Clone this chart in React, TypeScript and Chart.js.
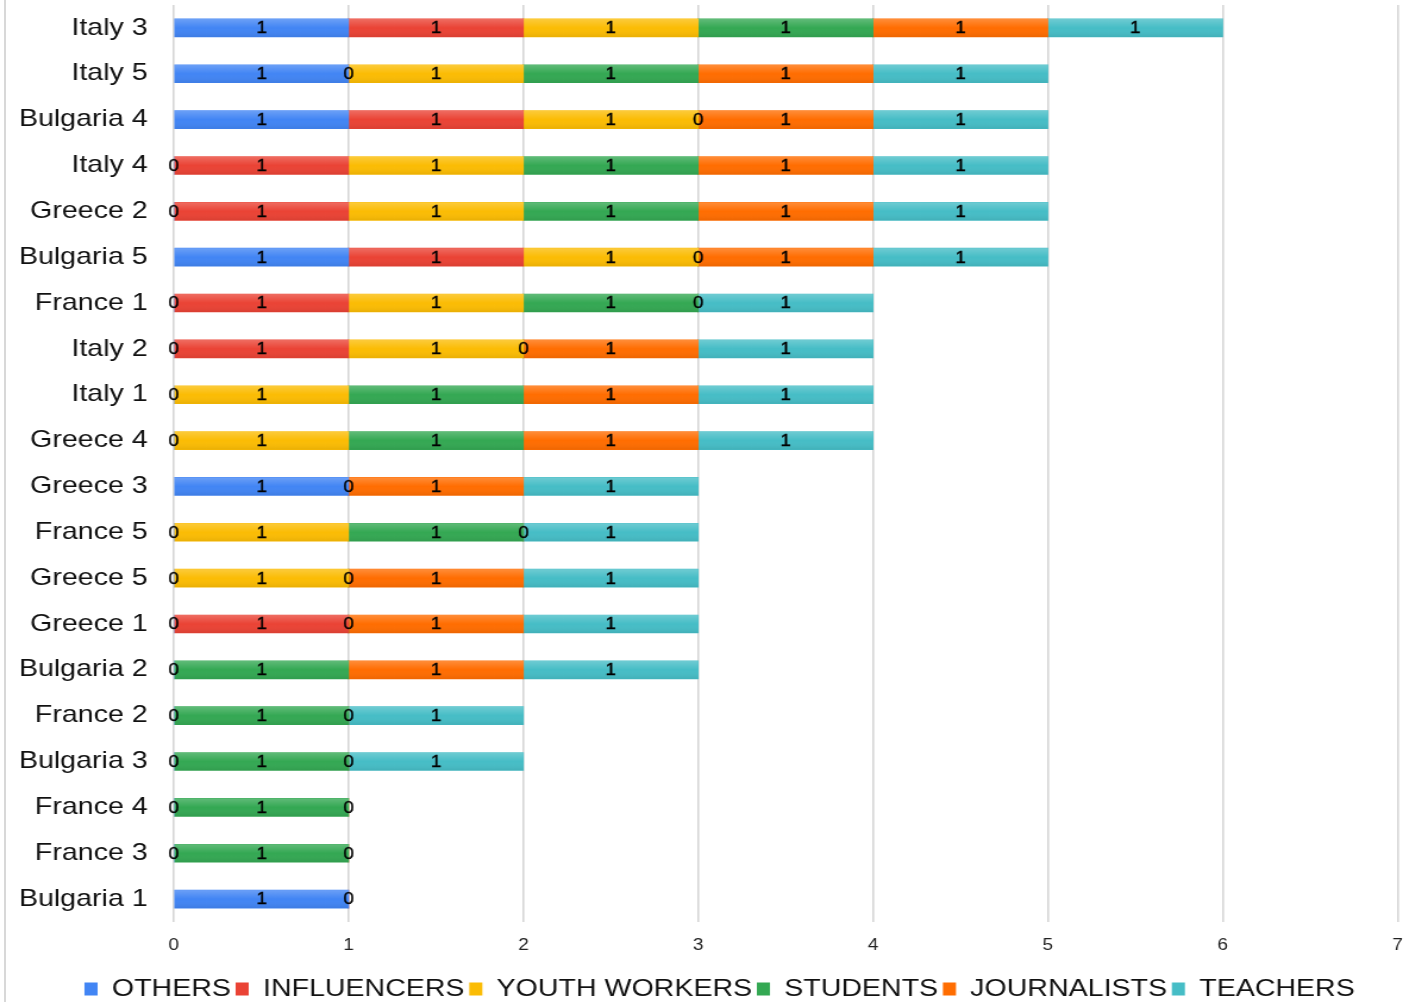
import React, { useEffect, useRef } from 'react';
import { Chart, registerables } from 'chart.js';

Chart.register(...registerables);

// ---- data ----
const categories = [
  'Italy 3', 'Italy 5', 'Bulgaria 4', 'Italy 4', 'Greece 2', 'Bulgaria 5', 'France 1',
  'Italy 2', 'Italy 1', 'Greece 4', 'Greece 3', 'France 5', 'Greece 5', 'Greece 1',
  'Bulgaria 2', 'France 2', 'Bulgaria 3', 'France 4', 'France 3', 'Bulgaria 1',
];

const others = [1, 1, 1, 0, 0, 1, 0, 0, 0, 0, 1, 0, 0, 0, 0, 0, 0, 0, 0, 1];
const influencers = [1, 0, 1, 1, 1, 1, 1, 1, null, null, 0, null, null, 1, null, null, null, null, null, 0];
const youthWorkers = [1, 1, 1, 1, 1, 1, 1, 1, 1, 1, null, 1, 1, null, null, null, null, null, null, null];
const students = [1, 1, 0, 1, 1, 0, 1, 0, 1, 1, null, 1, 0, 0, 1, 1, 1, 1, 1, null];
const journalists = [1, 1, 1, 1, 1, 1, 0, 1, 1, 1, 1, 0, 1, 1, 1, 0, 0, 0, 0, null];
const teachers = [1, 1, 1, 1, 1, 1, 1, 1, 1, 1, 1, 1, 1, 1, 1, 1, 1, null, null, null];

const seriesNames = ['OTHERS', 'INFLUENCERS', 'YOUTH WORKERS', 'STUDENTS', 'JOURNALISTS', 'TEACHERS'];
const seriesValues = [others, influencers, youthWorkers, students, journalists, teachers];
const seriesColors = ['#4285F4', '#EA4335', '#FBBC04', '#34A853', '#FF6D01', '#46BDC6'];

const xMin = 0;
const xMax = 7;
const xStep = 1;

// ---- layout constants ----
const SX = 1.19; // horizontal stretch of the reference
const W = 1181;
const H = 1002;
const FONT = "'Liberation Sans', Arial, Helvetica, sans-serif";

const legendShift = {
  id: 'legendShift',
  afterLayout(chart: any) {
    if (chart.legend) {
      chart.legend.left = 35;
      chart.legend.width = chart.legend.right - 35;
    }
  },
};

const barDecor = {
  id: 'barDecor',
  afterDatasetsDraw(chart: any) {
    const ctx = chart.ctx;
    ctx.save();
    // subtle vertical shading on every bar
    chart.data.datasets.forEach((ds: any, i: number) => {
      const meta = chart.getDatasetMeta(i);
      if (meta.hidden) return;
      meta.data.forEach((el: any, j: number) => {
        const v = ds.data[j];
        if (v == null || v === 0) return;
        const { x, y, base, height } = el.getProps(['x', 'y', 'base', 'height'], true);
        const top = y - height / 2;
        const g = ctx.createLinearGradient(0, top, 0, top + height);
        g.addColorStop(0, 'rgba(255,255,255,0.22)');
        g.addColorStop(0.5, 'rgba(255,255,255,0.0)');
        g.addColorStop(1, 'rgba(0,0,0,0.07)');
        ctx.fillStyle = g;
        ctx.fillRect(Math.min(x, base), top, Math.abs(x - base), height);
      });
    });
    // value labels
    ctx.font = `16px ${FONT}`;
    ctx.fillStyle = '#000';
    ctx.strokeStyle = '#000';
    ctx.lineWidth = 0.35;
    ctx.textAlign = 'center';
    ctx.textBaseline = 'middle';
    chart.data.datasets.forEach((ds: any, i: number) => {
      const meta = chart.getDatasetMeta(i);
      if (meta.hidden) return;
      meta.data.forEach((el: any, j: number) => {
        const v = ds.data[j];
        if (v == null) return;
        const { x, y, base } = el.getProps(['x', 'y', 'base'], true);
        const cx = (x + base) / 2;
        ctx.fillText(String(v), cx, y + 1);
        ctx.strokeText(String(v), cx, y + 1);
      });
    });
    ctx.restore();
  },
};

export default function App() {
  const ref = useRef<HTMLCanvasElement>(null);

  useEffect(() => {
    if (!ref.current) return;
    const chart = new Chart(ref.current, {
      type: 'bar',
      data: {
        labels: categories,
        datasets: seriesNames.map((name, i) => ({
          label: name,
          data: seriesValues[i],
          backgroundColor: seriesColors[i],
          borderWidth: 0,
          barThickness: 18,
        })),
      },
      options: {
        indexAxis: 'y',
        responsive: false,
        animation: false,
        devicePixelRatio: 1,
        layout: { padding: { top: 5, left: 0, right: 6.6, bottom: -9 } },
        plugins: {
          legend: {
            position: 'bottom',
            labels: {
              boxWidth: 11,
              boxHeight: 13,
              padding: 4,
              color: '#111',
              font: { family: FONT, size: 24 },
            },
          },
          tooltip: { enabled: false },
        },
        scales: {
          x: {
            type: 'linear',
            stacked: true,
            min: xMin,
            max: xMax,
            ticks: { stepSize: xStep, color: '#222', padding: 14, font: { family: FONT, size: 16 } },
            grid: { color: '#d6d6d6', lineWidth: 1.6, drawTicks: false },
            border: { display: false },
            afterFit: (s: any) => {
              s.height = 51;
              s.paddingLeft = 0;
              s.paddingRight = 0;
            },
          },
          y: {
            type: 'category',
            stacked: true,
            ticks: { color: '#111', padding: 22, autoSkip: false, font: { family: FONT, size: 24 } },
            grid: { display: false, drawTicks: false },
            border: { display: false },
            afterFit: (s: any) => {
              s.width = 146;
              s.paddingTop = 0;
              s.paddingBottom = 0;
            },
          },
        },
      },
      plugins: [legendShift, barDecor],
    } as any);
    return () => chart.destroy();
  }, []);

  return (
    <div style={{ position: 'fixed', left: 0, top: 0, width: 1405, height: 1002, background: '#fff', overflow: 'hidden' }}>
      <div style={{ position: 'absolute', left: 4, top: 0, width: 2, height: 1002, background: '#d8d8d8' }} />
      <div style={{ position: 'absolute', left: 0, top: 0, width: W, height: H, transform: `scaleX(${SX})`, transformOrigin: '0 0' }}>
        <canvas ref={ref} width={W} height={H} style={{ display: 'block', width: W, height: H }} />
      </div>
    </div>
  );
}
